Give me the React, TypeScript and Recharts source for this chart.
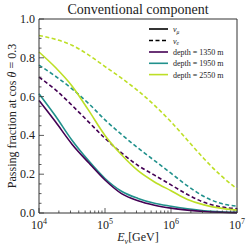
import React from "react";
import { LineChart, Line, XAxis, YAxis, ReferenceLine } from "recharts";

// log10(E_nu / GeV)
const logE = [4, 4.25, 4.5, 4.75, 5, 5.25, 5.5, 5.75, 6, 6.25, 6.5, 6.75, 7];

// passing fraction, nu_mu (solid)
const numu1350 = [0.58, 0.47, 0.355, 0.26, 0.17, 0.1, 0.063, 0.04, 0.025, 0.015, 0.008, 0.004, 0.002];
const numu1950 = [0.615, 0.5, 0.375, 0.27, 0.178, 0.112, 0.075, 0.05, 0.035, 0.022, 0.012, 0.006, 0.003];
const numu2550 = [0.83, 0.75, 0.655, 0.53, 0.4, 0.3, 0.218, 0.16, 0.115, 0.07, 0.042, 0.025, 0.015];

// passing fraction, nu_e (dashed)
const nue1350 = [0.7, 0.635, 0.555, 0.47, 0.385, 0.31, 0.245, 0.195, 0.145, 0.095, 0.055, 0.032, 0.022];
const nue1950 = [0.762, 0.705, 0.64, 0.565, 0.48, 0.405, 0.335, 0.27, 0.205, 0.14, 0.085, 0.05, 0.035];
const nue2550 = [0.915, 0.895, 0.865, 0.815, 0.755, 0.695, 0.63, 0.555, 0.47, 0.375, 0.28, 0.195, 0.125];

const depths = ["1350", "1950", "2550"];
const colors = ["#440154", "#21918c", "#bddf26"];

const xTicks: number[] = [];
[4, 5, 6].forEach((d) => {
  for (let k = 1; k < 10; k++) xTicks.push(d + Math.log10(k));
});
xTicks.push(7);
const yTicks: number[] = [];
for (let i = 0; i <= 20; i++) yTicks.push(i * 0.05);

const data = logE.map((x, i) => ({
  x,
  m1350: numu1350[i],
  m1950: numu1950[i],
  m2550: numu2550[i],
  e1350: nue1350[i],
  e1950: nue1950[i],
  e2550: nue2550[i],
}));

const FONT = "'Liberation Serif', 'Times New Roman', 'DejaVu Serif', serif";
const AX = "#333";
const txt = { fontFamily: FONT };

const XTick = (props: any) => {
  const { x, y, payload } = props;
  const v = payload.value;
  const major = Math.abs(v - Math.round(v)) < 1e-6;
  return (
    <g>
      <line x1={x} x2={x} y1={y} y2={y - (major ? 5 : 2.5)} stroke={AX} strokeWidth={0.8} />
      {major && (
        <text x={x} y={y + 16} textAnchor="middle" style={txt} fontSize={12} fill="#222">
          10
          <tspan dy={-5} fontSize={8}>
            {Math.round(v)}
          </tspan>
        </text>
      )}
    </g>
  );
};

const YTick = (props: any) => {
  const { x, y, payload } = props;
  const v = payload.value;
  const major = Math.abs(v * 5 - Math.round(v * 5)) < 1e-6;
  return (
    <g>
      <line x1={x} x2={x + (major ? 5 : 2.5)} y1={y} y2={y} stroke={AX} strokeWidth={0.8} />
      {major && (
        <text x={x - 4} y={y + 4} textAnchor="end" style={txt} fontSize={12} fill="#222">
          {v.toFixed(1)}
        </text>
      )}
    </g>
  );
};

export default function App() {
  const lw = 1.6;
  return (
    <div style={{ position: "absolute", left: 0, top: 0, width: 249, height: 249, background: "#fff" }}>
      <LineChart width={249} height={249} data={data} margin={{ top: 19, right: 12, bottom: 12, left: 9 }}>
        <XAxis
          dataKey="x"
          type="number"
          domain={[4, 7]}
          ticks={xTicks}
          interval={0}
          tickSize={0}
          tickMargin={0}
          tick={<XTick />}
          height={24}
          axisLine={{ stroke: AX }}
          tickLine={false}
        />
        <YAxis
          type="number"
          domain={[0, 1]}
          ticks={yTicks}
          interval={0}
          tickSize={0}
          tickMargin={0}
          tick={<YTick />}
          width={30}
          axisLine={{ stroke: AX }}
          tickLine={false}
        />
        <ReferenceLine y={1} stroke={AX} />
        <ReferenceLine x={7} stroke={AX} />
        <Line dataKey="e2550" type="monotone" stroke={colors[2]} strokeWidth={lw} strokeDasharray="4 2.5" dot={false} isAnimationActive={false} />
        <Line dataKey="e1950" type="monotone" stroke={colors[1]} strokeWidth={lw} strokeDasharray="4 2.5" dot={false} isAnimationActive={false} />
        <Line dataKey="e1350" type="monotone" stroke={colors[0]} strokeWidth={lw} strokeDasharray="4 2.5" dot={false} isAnimationActive={false} />
        <Line dataKey="m2550" type="monotone" stroke={colors[2]} strokeWidth={lw} dot={false} isAnimationActive={false} />
        <Line dataKey="m1950" type="monotone" stroke={colors[1]} strokeWidth={lw} dot={false} isAnimationActive={false} />
        <Line dataKey="m1350" type="monotone" stroke={colors[0]} strokeWidth={lw} dot={false} isAnimationActive={false} />
      </LineChart>
      <svg width={249} height={249} style={{ position: "absolute", left: 0, top: 0, pointerEvents: "none" }}>
        <text x={138} y={14} textAnchor="middle" style={txt} fontSize={14} fill="#222">
          Conventional component
        </text>
        <text transform="translate(16,116) rotate(-90)" textAnchor="middle" style={txt} fontSize={12} fill="#222">
          Passing fraction at cos <tspan fontStyle="italic">θ</tspan> = 0.3
        </text>
        <text x={138} y={241} textAnchor="middle" style={txt} fontSize={12} fill="#222">
          <tspan fontStyle="italic">E</tspan>
          <tspan fontStyle="italic" fontSize={8} dy={3}>ν</tspan>
          <tspan dy={-3}>[GeV]</tspan>
        </text>
        <g style={txt} fontSize={8} fill="#222">
          <line x1={149} x2={168} y1={29} y2={29} stroke="#000" strokeWidth={lw} />
          <text x={173} y={32}>
            <tspan fontStyle="italic">ν</tspan>
            <tspan fontStyle="italic" fontSize={5.5} dy={1.5}>μ</tspan>
          </text>
          <line x1={149} x2={168} y1={40.5} y2={40.5} stroke="#000" strokeWidth={lw} strokeDasharray="4 2.5" />
          <text x={173} y={43.5}>
            <tspan fontStyle="italic">ν</tspan>
            <tspan fontStyle="italic" fontSize={5.5} dy={1.5}>e</tspan>
          </text>
          {depths.map((d, i) => (
            <g key={d}>
              <line x1={149} x2={168} y1={52 + i * 11.3} y2={52 + i * 11.3} stroke={colors[i]} strokeWidth={lw} />
              <text x={173} y={55 + i * 11.3}>depth = {d} m</text>
            </g>
          ))}
        </g>
      </svg>
    </div>
  );
}
